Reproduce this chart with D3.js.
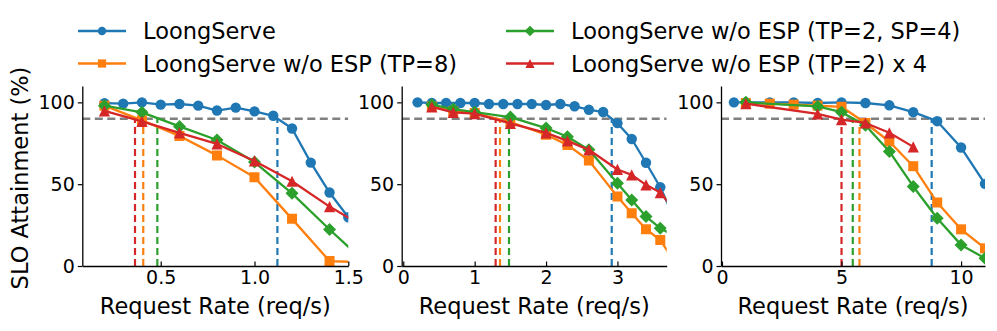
<!DOCTYPE html>
<html>
<head>
<meta charset="utf-8">
<script src="https://cdn.jsdelivr.net/npm/d3@7"></script>
<style>
  html, body { margin: 0; padding: 0; background: #fff; }
  svg { display: block; font-family: "DejaVu Sans", sans-serif; }
</style>
</head>
<body>
<div id="chart"></div>
<script>
// series, in drawing order
const SERIES_NAMES = [
  "LoongServe",
  "LoongServe w/o ESP (TP=8)",
  "LoongServe w/o ESP (TP=2, SP=4)",
  "LoongServe w/o ESP (TP=2) x 4"
];
const COLORS = ["#1f77b4", "#ff7f0e", "#2ca02c", "#d62728"];
const MARKERS = ["circle", "square", "diamond", "triangle"];
const SLO_TARGET = 90;

// panel 1
const P1_RATE_LS = [0.2, 0.3, 0.4, 0.5, 0.6, 0.7, 0.8, 0.9, 1.0, 1.1, 1.2, 1.3, 1.4, 1.5];
const P1_SLO_LS = [99.5, 99.2, 100, 98.6, 99, 98, 95, 96.8, 94.5, 91.8, 84, 63.2, 44.9, 29.8];
const P1_RATE_ESP = [0.2, 0.4, 0.6, 0.8, 1.0, 1.2, 1.4, 1.6];
const P1_SLO_TP8 = [98, 89, 79.5, 67.6, 54.2, 28.8, 3, 2.2];
const P1_SLO_SP4 = [98, 93.9, 85.3, 77, 63.5, 44.4, 22.3, 1.3];
const P1_SLO_TP2X4 = [94.8, 88.4, 81.4, 74.6, 64.2, 51.8, 36.3, 22.9];
const P1_CUTOFF = [1.122, 0.407, 0.482, 0.363];
const P1_XTICKS = [0.5, 1.0, 1.5];

// panel 2
const P2_RATE_LS = [0.2, 0.4, 0.6, 0.8, 1.0, 1.2, 1.4, 1.6, 1.8, 2.0, 2.2, 2.4, 2.6, 2.8, 3.0, 3.2, 3.4, 3.6, 3.8];
const P2_SLO_LS = [100, 99.6, 99.6, 99.6, 99.6, 99, 99, 99, 99, 98.4, 99, 97.6, 95.5, 94.1, 87.3, 77.6, 63.1, 48.1, 28.8];
const P2_RATE_ESP = [0.4, 0.7, 1.0, 1.5, 2.0, 2.3, 2.6, 3.0, 3.2, 3.4, 3.6, 3.8];
const P2_SLO_TP8 = [97.5, 94.5, 93.5, 88, 80.2, 74, 64.5, 42.4, 32.3, 22.5, 15.9, 2.3];
const P2_SLO_SP4 = [98.6, 95.9, 94, 91, 84.3, 79, 71, 50.6, 40.4, 30.2, 23.1, 18.4];
const P2_SLO_TP2X4 = [97.3, 93.9, 93.1, 87.2, 81.4, 76.5, 71, 59, 55.7, 49.6, 44.9, 34];
const P2_CUTOFF = [2.92, 1.355, 1.481, 1.294];
const P2_XTICKS = [0, 1, 2, 3];

// panel 3
const P3_RATE_LS = [0.5, 1, 2, 3, 4, 5, 6, 7, 8, 9, 10, 11];
const P3_SLO_LS = [100, 100, 100, 100, 99.6, 100, 99.6, 98.2, 94, 88.5, 72.4, 50.2];
const P3_RATE_TP8 = [1, 2, 3, 4, 5, 6, 7, 8, 9, 10, 11];
const P3_SLO_TP8 = [99.6, 99.2, 98.6, 98, 97.3, 87.4, 76.1, 61, 38.8, 22.4, 10.8];
const P3_RATE_SP4 = [1, 4, 5, 6, 7, 8, 9, 10, 11];
const P3_SLO_SP4 = [100, 97.5, 94, 86, 70, 48.6, 29.2, 12.9, 4.7];
const P3_RATE_TP2X4 = [1, 4, 5, 6, 7, 8];
const P3_SLO_TP2X4 = [99.2, 92.9, 89.5, 87.4, 81.4, 72.8];
const P3_CUTOFF = [8.77, 5.75, 5.47, 5.0];
const P3_XTICKS = [0, 5, 10];

const Y_TICKS = [0, 50, 100];

const zip = (xs, ys) => xs.map((x, i) => ({ x, y: ys[i] }));

const PANELS = [
  {
    left: 82.3, right: 348.3, xDomain: [0.082, 1.5], ticks: P1_XTICKS, fmt: d3.format(".1f"),
    series: [zip(P1_RATE_LS, P1_SLO_LS), zip(P1_RATE_ESP, P1_SLO_TP8), zip(P1_RATE_ESP, P1_SLO_SP4), zip(P1_RATE_ESP, P1_SLO_TP2X4)],
    cutoff: P1_CUTOFF, yLabel: true
  },
  {
    left: 401.7, right: 666.7, xDomain: [-0.022, 3.69], ticks: P2_XTICKS, fmt: d3.format("d"),
    series: [zip(P2_RATE_LS, P2_SLO_LS), zip(P2_RATE_ESP, P2_SLO_TP8), zip(P2_RATE_ESP, P2_SLO_SP4), zip(P2_RATE_ESP, P2_SLO_TP2X4)],
    cutoff: P2_CUTOFF
  },
  {
    left: 721, right: 985, xDomain: [-0.04, 11], ticks: P3_XTICKS, fmt: d3.format("d"),
    series: [zip(P3_RATE_LS, P3_SLO_LS), zip(P3_RATE_TP8, P3_SLO_TP8), zip(P3_RATE_SP4, P3_SLO_SP4), zip(P3_RATE_TP2X4, P3_SLO_TP2X4)],
    cutoff: P3_CUTOFF
  }
];

const W = 997, H = 331;
const TOP = 86, BOTTOM = 266;

const svg = d3.select("#chart").append("svg").attr("width", W).attr("height", H);

function markerPath(type, s) {
  // s = scale factor (1 for plot markers)
  if (type === "circle") {
    const r = 5.2 * s;
    return `M${r},0A${r},${r} 0 1,1 ${-r},0A${r},${r} 0 1,1 ${r},0Z`;
  }
  if (type === "square") {
    const h = 5 * s;
    return `M${-h},${-h}H${h}V${h}H${-h}Z`;
  }
  if (type === "diamond") {
    const h = 6.5 * s;
    return `M0,${-h}L${h},0L0,${h}L${-h},0Z`;
  }
  const h = 5.6 * s;
  return `M0,${-h}L${h},${h}L${-h},${h}Z`;
}

const y = d3.scaleLinear().domain([0, 110]).range([BOTTOM, TOP]);

PANELS.forEach((p, pi) => {
  const x = d3.scaleLinear().domain(p.xDomain).range([p.left, p.right]);
  const g = svg.append("g");

  const clipId = "clip" + pi;
  svg.append("clipPath").attr("id", clipId)
    .append("rect")
    .attr("x", p.left).attr("y", TOP)
    .attr("width", p.right - p.left).attr("height", BOTTOM - TOP);

  const plot = g.append("g").attr("clip-path", `url(#${clipId})`);

  // SLO target line
  plot.append("line")
    .attr("x1", p.left).attr("x2", p.right)
    .attr("y1", y(SLO_TARGET)).attr("y2", y(SLO_TARGET))
    .attr("stroke", "#808080").attr("stroke-width", 2.4)
    .attr("stroke-dasharray", "8,4.5");

  // cutoff lines per series
  p.cutoff.forEach((c, i) => {
    plot.append("line")
      .attr("x1", x(c)).attr("x2", x(c))
      .attr("y1", y(0)).attr("y2", y(SLO_TARGET))
      .attr("stroke", COLORS[i]).attr("stroke-width", 2.2)
      .attr("stroke-dasharray", "7,4");
  });

  const line = d3.line().x(d => x(d.x)).y(d => y(d.y));

  p.series.forEach((pts, i) => {
    const sg = plot.append("g");
    sg.append("path")
      .attr("d", line(pts))
      .attr("fill", "none")
      .attr("stroke", COLORS[i])
      .attr("stroke-width", 2.3)
      .attr("stroke-linejoin", "round");
    sg.selectAll("path.mk")
      .data(pts)
      .join("path")
      .attr("class", "mk")
      .attr("transform", d => `translate(${x(d.x)},${y(d.y)})`)
      .attr("d", markerPath(MARKERS[i], 1))
      .attr("fill", COLORS[i]);
  });

  // axes
  const yAxis = d3.axisLeft(y).tickValues(Y_TICKS).tickSizeInner(4.5).tickSizeOuter(0).tickPadding(3);
  const xAxis = d3.axisBottom(x).tickValues(p.ticks).tickFormat(p.fmt).tickSizeInner(-4.5).tickSizeOuter(0).tickPadding(5);

  const ya = g.append("g").attr("transform", `translate(${p.left},0)`).call(yAxis);
  const xa = g.append("g").attr("transform", `translate(0,${BOTTOM})`).call(xAxis);

  [ya, xa].forEach(a => {
    a.select(".domain").attr("stroke", "#000").attr("stroke-width", 1.3);
    a.selectAll(".tick line").attr("stroke", "#000").attr("stroke-width", 1.2);
    a.selectAll(".tick text")
      .attr("fill", "#000")
      .style("font-size", "19px")
      .style("font-family", "DejaVu Sans");
  });

  g.append("text")
    .attr("x", (p.left + p.right) / 2)
    .attr("y", 314)
    .attr("text-anchor", "middle")
    .style("font-size", "22.5px")
    .text("Request Rate (req/s)");

  if (p.yLabel) {
    g.append("text")
      .attr("transform", `translate(28,178) rotate(-90)`)
      .attr("text-anchor", "middle")
      .style("font-size", "22.5px")
      .text("SLO Attainment (%)");
  }
});

// legend, two columns
const LEGEND_POS = [
  { x: 78, y: 31 },
  { x: 78, y: 63.5 },
  { x: 506, y: 31 },
  { x: 506, y: 63.5 }
];

const legend = svg.append("g");
SERIES_NAMES.forEach((name, i) => {
  const pos = LEGEND_POS[i];
  const lg = legend.append("g").attr("transform", `translate(${pos.x},${pos.y})`);
  lg.append("line")
    .attr("x1", 0).attr("x2", 48)
    .attr("stroke", COLORS[i]).attr("stroke-width", 2.3);
  lg.append("path")
    .attr("transform", "translate(24,0)")
    .attr("d", markerPath(MARKERS[i], 0.82))
    .attr("fill", COLORS[i]);
  lg.append("text")
    .attr("x", 65)
    .attr("y", 8)
    .style("font-size", "22.5px")
    .text(name);
});
</script>
</body>
</html>
